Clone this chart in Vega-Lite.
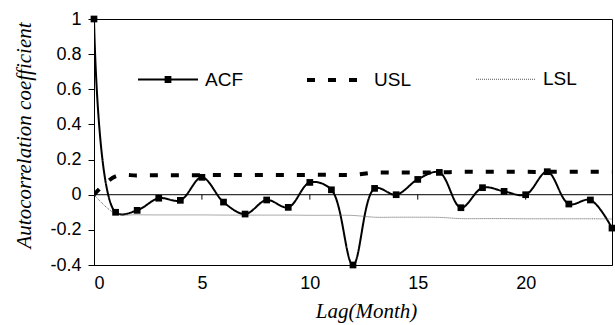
{
  "$schema": "https://vega.github.io/schema/vega-lite/v6.json",
  "width": 518,
  "height": 246,
  "autosize": "none",
  "padding": {"left": 94, "top": 19, "right": 3, "bottom": 60},
  "background": "white",
  "config": {
    "view": {"stroke": "#000", "strokeWidth": 1},
    "font": "Liberation Sans",
    "axis": {
      "grid": false,
      "domainColor": "#000",
      "domainWidth": 1,
      "tickColor": "#000",
      "labelFont": "Liberation Sans",
      "labelFontSize": 18,
      "labelColor": "#000",
      "labelOverlap": false,
      "titleFont": "Liberation Serif",
      "titleFontStyle": "italic",
      "titleFontWeight": "normal",
      "titleFontSize": 21,
      "titleColor": "#000"
    }
  },
  "data": {
    "values": [
      {"lag": 0, "series": "ACF", "value": 1},
      {"lag": 1, "series": "ACF", "value": -0.1},
      {"lag": 2, "series": "ACF", "value": -0.089},
      {"lag": 3, "series": "ACF", "value": -0.02},
      {"lag": 4, "series": "ACF", "value": -0.032},
      {"lag": 5, "series": "ACF", "value": 0.099},
      {"lag": 6, "series": "ACF", "value": -0.042},
      {"lag": 7, "series": "ACF", "value": -0.11},
      {"lag": 8, "series": "ACF", "value": -0.03},
      {"lag": 9, "series": "ACF", "value": -0.072},
      {"lag": 10, "series": "ACF", "value": 0.07},
      {"lag": 11, "series": "ACF", "value": 0.028},
      {"lag": 12, "series": "ACF", "value": -0.4},
      {"lag": 13, "series": "ACF", "value": 0.036},
      {"lag": 14, "series": "ACF", "value": 0.0},
      {"lag": 15, "series": "ACF", "value": 0.087},
      {"lag": 16, "series": "ACF", "value": 0.127},
      {"lag": 17, "series": "ACF", "value": -0.074},
      {"lag": 18, "series": "ACF", "value": 0.04},
      {"lag": 19, "series": "ACF", "value": 0.019},
      {"lag": 20, "series": "ACF", "value": 0.0},
      {"lag": 21, "series": "ACF", "value": 0.131},
      {"lag": 22, "series": "ACF", "value": -0.053},
      {"lag": 23, "series": "ACF", "value": -0.03},
      {"lag": 24, "series": "ACF", "value": -0.19},
      {"lag": 0, "series": "USL", "value": 0},
      {"lag": 1, "series": "USL", "value": 0.105},
      {"lag": 2, "series": "USL", "value": 0.11},
      {"lag": 3, "series": "USL", "value": 0.111},
      {"lag": 4, "series": "USL", "value": 0.111},
      {"lag": 5, "series": "USL", "value": 0.111},
      {"lag": 6, "series": "USL", "value": 0.112},
      {"lag": 7, "series": "USL", "value": 0.112},
      {"lag": 8, "series": "USL", "value": 0.112},
      {"lag": 9, "series": "USL", "value": 0.112},
      {"lag": 10, "series": "USL", "value": 0.113},
      {"lag": 11, "series": "USL", "value": 0.113},
      {"lag": 12, "series": "USL", "value": 0.113},
      {"lag": 13, "series": "USL", "value": 0.126},
      {"lag": 14, "series": "USL", "value": 0.126},
      {"lag": 15, "series": "USL", "value": 0.126},
      {"lag": 16, "series": "USL", "value": 0.127},
      {"lag": 17, "series": "USL", "value": 0.13},
      {"lag": 18, "series": "USL", "value": 0.13},
      {"lag": 19, "series": "USL", "value": 0.13},
      {"lag": 20, "series": "USL", "value": 0.13},
      {"lag": 21, "series": "USL", "value": 0.13},
      {"lag": 22, "series": "USL", "value": 0.131},
      {"lag": 23, "series": "USL", "value": 0.131},
      {"lag": 24, "series": "USL", "value": 0.131},
      {"lag": 0, "series": "LSL", "value": 0},
      {"lag": 1, "series": "LSL", "value": -0.108},
      {"lag": 2, "series": "LSL", "value": -0.114},
      {"lag": 3, "series": "LSL", "value": -0.115},
      {"lag": 4, "series": "LSL", "value": -0.115},
      {"lag": 5, "series": "LSL", "value": -0.115},
      {"lag": 6, "series": "LSL", "value": -0.116},
      {"lag": 7, "series": "LSL", "value": -0.116},
      {"lag": 8, "series": "LSL", "value": -0.116},
      {"lag": 9, "series": "LSL", "value": -0.116},
      {"lag": 10, "series": "LSL", "value": -0.117},
      {"lag": 11, "series": "LSL", "value": -0.117},
      {"lag": 12, "series": "LSL", "value": -0.118},
      {"lag": 13, "series": "LSL", "value": -0.128},
      {"lag": 14, "series": "LSL", "value": -0.128},
      {"lag": 15, "series": "LSL", "value": -0.128},
      {"lag": 16, "series": "LSL", "value": -0.129},
      {"lag": 17, "series": "LSL", "value": -0.136},
      {"lag": 18, "series": "LSL", "value": -0.136},
      {"lag": 19, "series": "LSL", "value": -0.136},
      {"lag": 20, "series": "LSL", "value": -0.137},
      {"lag": 21, "series": "LSL", "value": -0.137},
      {"lag": 22, "series": "LSL", "value": -0.137},
      {"lag": 23, "series": "LSL", "value": -0.137},
      {"lag": 24, "series": "LSL", "value": -0.138}
    ]
  },
  "encoding": {
    "x": {
      "field": "lag", "type": "quantitative",
      "scale": {"domain": [0, 24], "nice": false, "zero": false},
      "axis": {
        "values": [0, 5, 10, 15, 20],
        "ticks": false,
        "labelPadding": 9,
        "title": "Lag(Month)",
        "titleX": 272,
        "titleY": 52,
        "titleBaseline": "alphabetic",
        "titleAlign": "center"
      }
    },
    "y": {
      "field": "value", "type": "quantitative",
      "scale": {"domain": [-0.4, 1], "nice": false, "zero": false},
      "axis": {
        "values": [-0.4, -0.2, 0, 0.2, 0.4, 0.6, 0.8, 1],
        "labelExpr": "toString(datum.value)",
        "labelOverlap": false,
        "tickSize": 6,
        "labelPadding": 7,
        "title": "Autocorrelation coefficient",
        "titleX": -70,
        "titleY": 116,
        "titleAngle": -90,
        "titleAlign": "center",
        "titleBaseline": "middle"
      }
    }
  },
  "layer": [
    {
      "mark": {"type": "line", "interpolate": "catmull-rom", "clip": true},
      "encoding": {
        "color": {
          "field": "series", "type": "nominal",
          "scale": {"domain": ["ACF", "USL", "LSL"], "range": ["#000000", "#000000", "#555555"]},
          "legend": {
            "title": null,
            "orient": "none",
            "legendX": 42,
            "legendY": 29,
            "direction": "horizontal",
            "columns": 3,
            "gridAlign": "all",
            "columnPadding": 56,
            "padding": 0,
            "symbolType": "M-1,0H1",
            "symbolSize": 3600,
            "labelFont": "Liberation Sans",
            "labelFontSize": 19,
            "labelColor": "#000",
            "labelOffset": 5,
            "encode": {
              "symbols": {
                "update": {
                  "shape": {"signal": "datum.value === 'ACF' ? 'M-1,0H1M-0.08,-0.08H0.08V0.08H-0.08Z' : 'M-1,0H1'"},
                  "fill": {"signal": "datum.value === 'ACF' ? '#000' : 'transparent'"}
                }
              }
            }
          }
        },
        "strokeDash": {
          "field": "series", "type": "nominal",
          "scale": {"type": "ordinal", "domain": ["ACF", "USL", "LSL"], "range": [[1, 0], [8, 13], [1, 1]]},
          "legend": null
        },
        "strokeWidth": {
          "field": "series", "type": "nominal",
          "scale": {"type": "ordinal", "domain": ["ACF", "USL", "LSL"], "range": [2, 4, 1]},
          "legend": null
        }
      }
    },
    {
      "transform": [{"filter": "datum.series === 'ACF' && datum.lag === 0"}],
      "mark": {"type": "rule", "color": "#000", "strokeWidth": 1},
      "encoding": {"x": null, "y": {"datum": 0, "type": "quantitative"}}
    },
    {
      "transform": [{"filter": "datum.series === 'ACF' && (datum.lag === 5 || datum.lag === 10 || datum.lag === 15 || datum.lag === 20)"}],
      "mark": {"type": "rule", "color": "#000", "strokeWidth": 1},
      "encoding": {
        "y": {"datum": 0, "type": "quantitative"},
        "y2": {"datum": -0.028}
      }
    },
    {
      "transform": [{"filter": "datum.series === 'ACF'"}],
      "mark": {"type": "point", "shape": "square", "filled": true, "color": "#000", "size": 45, "opacity": 1}
    }
  ]
}
